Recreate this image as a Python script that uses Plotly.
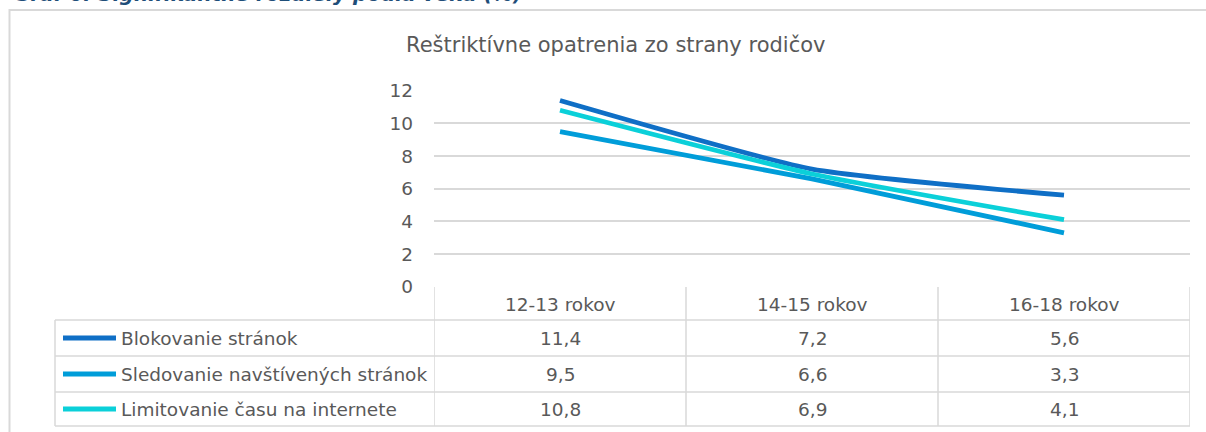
import plotly.graph_objects as go

categories = ["12-13 rokov", "14-15 rokov", "16-18 rokov"]
series_names = ["Blokovanie stránok", "Sledovanie navštívených stránok", "Limitovanie času na internete"]
blokovanie = [11.4, 7.2, 5.6]
sledovanie = [9.5, 6.6, 3.3]
limitovanie = [10.8, 6.9, 4.1]
y_ticks = [0, 2, 4, 6, 8, 10, 12]
chart_title = "Reštriktívne opatrenia zo strany rodičov"
heading = "Graf 6: Signifikantné rozdiely podľa veku (%)"

series_values = [blokovanie, sledovanie, limitovanie]
colors = ["#0F6FC6", "#009DD9", "#0BD0D9"]

W, H = 1206, 432
FONT = "DejaVu Sans"
TXT = "#595959"
GRID = "#D9D9D9"
FS = 18.5


def px(x):
    return x / W


def py(y):
    return 1 - y / H


fig = go.Figure()
xs = list(range(len(categories)))
for name, vals, col in zip(series_names, series_values, colors):
    fig.add_trace(go.Scatter(
        x=xs, y=vals, name=name, mode="lines",
        line=dict(color=col, width=4.8, shape="spline", smoothing=0.5),
        showlegend=False, hoverinfo="skip",
    ))

shapes = []
annotations = []

# outer frame
shapes.append(dict(type="rect", xref="paper", yref="paper",
                   x0=px(9.5), x1=px(1230), y0=py(460), y1=py(10),
                   line=dict(color=GRID, width=2)))

# data table grid
row_lines = [320, 356, 392, 426]
for yy in row_lines:
    shapes.append(dict(type="line", xref="paper", yref="paper",
                       x0=px(55), x1=px(1190), y0=py(yy), y1=py(yy),
                       line=dict(color=GRID, width=1.5)))
shapes.append(dict(type="line", xref="paper", yref="paper",
                   x0=px(55), x1=px(55), y0=py(320), y1=py(426),
                   line=dict(color=GRID, width=1.5)))
for k in range(len(categories) + 1):
    xv = k - 0.5
    shapes.append(dict(type="line", xref="x", yref="paper",
                       x0=xv, x1=xv, y0=py(287), y1=py(426),
                       line=dict(color=GRID, width=1.5)))

# header row
for i, c in enumerate(categories):
    annotations.append(dict(x=i, y=py(304), xref="x", yref="paper", text=c,
                            showarrow=False, xanchor="center", yanchor="middle",
                            font=dict(family=FONT, size=FS, color=TXT)))

# series rows
row_centers = [(row_lines[i] + row_lines[i + 1]) / 2 for i in range(3)]
for r, (name, vals, col) in enumerate(zip(series_names, series_values, colors)):
    yc = row_centers[r]
    shapes.append(dict(type="line", xref="paper", yref="paper",
                       x0=px(63), x1=px(116), y0=py(yc), y1=py(yc),
                       line=dict(color=col, width=5)))
    annotations.append(dict(x=px(119), y=py(yc), xref="paper", yref="paper",
                            text=name, showarrow=False, xanchor="left", yanchor="middle",
                            font=dict(family=FONT, size=FS, color=TXT)))
    for i, v in enumerate(vals):
        annotations.append(dict(x=i, y=py(yc), xref="x", yref="paper",
                                text=f"{v:.1f}".replace(".", ","), showarrow=False,
                                xanchor="center", yanchor="middle",
                                font=dict(family=FONT, size=FS, color=TXT)))

# chart title
annotations.append(dict(x=px(615), y=py(45), xref="paper", yref="paper",
                        text=chart_title, showarrow=False, xanchor="center", yanchor="middle",
                        font=dict(family=FONT, size=21, color=TXT)))
# heading, cropped by the top edge
annotations.append(dict(x=px(12), y=1, xref="paper", yref="paper",
                        text=f"<b><i>{heading}</i></b>", showarrow=False,
                        xanchor="left", yanchor="bottom", yshift=-8.5,
                        font=dict(family=FONT, size=20, color="#1F4E79")))

fig.update_layout(
    width=W, height=H,
    margin=dict(l=0, r=0, t=0, b=0, autoexpand=False),
    paper_bgcolor="white", plot_bgcolor="white",
    separators=", ",
    shapes=shapes, annotations=annotations,
    xaxis=dict(domain=[px(434), px(1190)], range=[-0.5, 2.5], automargin=False,
               showticklabels=False, showgrid=False, zeroline=False,
               showline=False, fixedrange=True),
    yaxis=dict(domain=[py(286.7), py(90.7)], range=[0, 12], automargin=False,
               tickvals=y_ticks, showgrid=True, gridcolor=GRID, gridwidth=1.5,
               zeroline=False, showline=False, ticks="",
               ticklabelstandoff=20,
               tickfont=dict(family=FONT, size=FS, color=TXT), fixedrange=True),
)

fig.write_html("out.html", config={"displayModeBar": False},
               post_script="document.body.style.margin='0';")
